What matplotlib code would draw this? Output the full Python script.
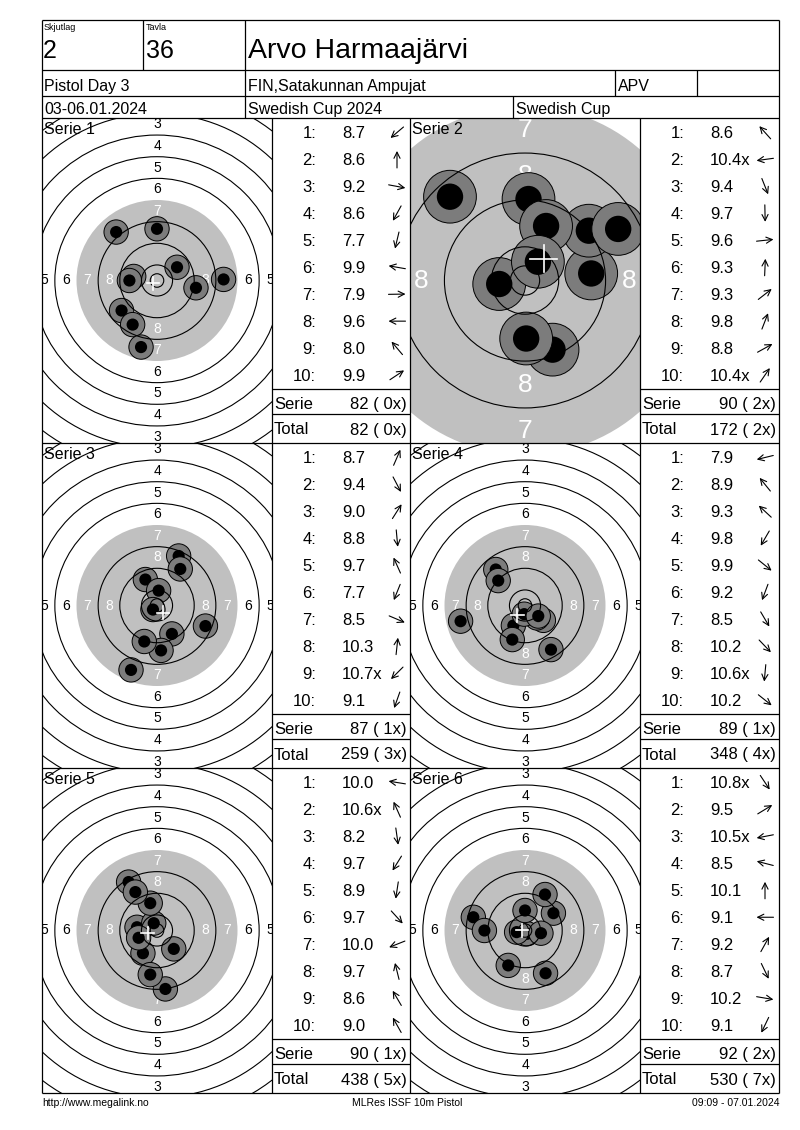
import matplotlib
matplotlib.use('Agg')
import matplotlib.pyplot as plt
from matplotlib.patches import Circle
from matplotlib import font_manager
import numpy as np

# ---------------- data ----------------
shooter = "Arvo Harmaajärvi"
relay = "2"
lane = "36"
event = "Pistol Day 3"
club = "FIN,Satakunnan Ampujat"
cls = "APV"
dates = "03-06.01.2024"
competition = "Swedish Cup 2024"
cup = "Swedish Cup"
footer_left = "http://www.megalink.no"
footer_mid = "MLRes ISSF 10m Pistol"
footer_right = "09:09 - 07.01.2024"

series_titles = ["Serie 1", "Serie 2", "Serie 3", "Serie 4", "Serie 5", "Serie 6"]

scores_1 = ["8.7", "8.6", "9.2", "8.6", "7.7", "9.9", "7.9", "9.6", "8.0", "9.9"]
scores_2 = ["8.6", "10.4x", "9.4", "9.7", "9.6", "9.3", "9.3", "9.8", "8.8", "10.4x"]
scores_3 = ["8.7", "9.4", "9.0", "8.8", "9.7", "7.7", "8.5", "10.3", "10.7x", "9.1"]
scores_4 = ["7.9", "8.9", "9.3", "9.8", "9.9", "9.2", "8.5", "10.2", "10.6x", "10.2"]
scores_5 = ["10.0", "10.6x", "8.2", "9.7", "8.9", "9.7", "10.0", "9.7", "8.6", "9.0"]
scores_6 = ["10.8x", "9.5", "10.5x", "8.5", "10.1", "9.1", "9.2", "8.7", "10.2", "9.1"]

serie_sums = ["82 ( 0x)", "90 ( 2x)", "87 ( 1x)", "89 ( 1x)", "90 ( 1x)", "92 ( 2x)"]
totals = ["82 ( 0x)", "172 ( 2x)", "259 ( 3x)", "348 ( 4x)", "438 ( 5x)", "530 ( 7x)"]

# shot positions in mm (x right, y up)
shots_x_1 = [-13.1, 0.0, 14.4, -9.0, -5.9, -8.6, 24.6, -10.2, -15.1, 7.4]
shots_y_1 = [-11.1, 19.1, -2.7, -16.3, -24.6, 1.5, 0.4, 0.0, 17.9, 4.9]
shots_x_2 = [-12.8, -4.4, 4.7, 0.2, 11.3, 0.6, 10.9, 3.6, 15.9, 2.2]
shots_y_2 = [14.3, -0.6, -11.8, -9.9, 1.2, 13.9, 8.5, 9.3, 8.8, 3.2]
shots_x_3 = [8.0, 5.5, 8.6, 1.5, -4.3, -9.6, 17.9, 0.6, -1.5, -4.7]
shots_y_3 = [18.3, -10.5, 13.5, -16.6, 9.6, -23.8, -7.6, 5.5, -1.5, -13.3]
shots_x_4 = [-23.8, -10.8, -9.9, -4.3, 6.8, -4.7, 9.6, 4.4, -0.3, 4.9]
shots_y_4 = [-5.8, 13.3, 9.2, -7.4, -5.5, -12.6, -16.3, -4.6, -3.2, -3.9]
shots_x_5 = [-7.4, -1.2, 3.1, -5.2, -2.5, 6.2, -6.8, -2.5, -10.5, -8.0]
shots_y_5 = [1.2, 2.7, -21.6, -8.4, -16.3, -6.8, -2.7, 10.1, 17.9, 14.2]
shots_x_6 = [0.8, 10.5, -3.1, -19.1, 0.0, -15.0, 7.4, 7.6, 5.9, -6.2]
shots_y_6 = [-1.2, 6.4, -0.6, 4.9, 7.4, 0.0, 13.3, -15.8, -1.0, -12.9]

# ---------------- layout ----------------
W, H = 800, 1130
fig = plt.figure(figsize=(8, 11.3), dpi=100)
FONT = 'Liberation Sans'
try:
    font_manager.findfont(font_manager.FontProperties(family='Liberation Sans Narrow'),
                          fallback_to_default=False)
    NARROW = 'Liberation Sans Narrow'
except Exception:
    NARROW = 'Liberation Sans'

LEFT, RIGHT, TOP, BOTTOM = 42, 779, 20, 1093
COLX = [42, 410]          # target column left edges
TABX = [272, 640]         # table column left edges
ROWY = [118, 443, 768]    # body row tops
ROWH = 325
TW = 230

GREY = '#c0c0c0'
SHOT_GREY = '#7c7c7c'

def ring_r(n):
    return 5.75 + 8.0 * (10 - n)


def draw_target(px, py, scale, xs, ys, title, lab_fs):
    ax = fig.add_axes([px / W, 1 - (py + ROWH) / H, TW / W, ROWH / H])
    hw = TW / 2 / scale
    hh = ROWH / 2 / scale
    ax.set_xlim(-hw, hw)
    ax.set_ylim(-hh, hh)
    ax.set_axis_off()
    ax.add_patch(Circle((0, 0), ring_r(7), fc=GREY, ec='none', zorder=1))
    for n in [1, 2, 3, 4, 5, 6, 8, 9, 10]:
        ax.add_patch(Circle((0, 0), ring_r(n), fill=False, ec='black', lw=0.8, zorder=4))
    ax.add_patch(Circle((0, 0), 2.5, fill=False, ec='black', lw=0.8, zorder=4))
    for n in range(1, 9):
        m = ring_r(n) - 4.0
        col = 'white' if n >= 7 else 'black'
        for (lx, ly) in [(0, m), (0, -m), (-m, 0), (m, 0)]:
            if abs(lx) > hw + 1 or abs(ly) > hh + 1:
                continue
            ax.text(lx, ly, str(n), color=col, fontsize=lab_fs, family=FONT,
                    ha='center', va='center', zorder=2, clip_on=True)
    for i, (sx, sy) in enumerate(zip(xs, ys)):
        ax.add_patch(Circle((sx, sy), 4.5, fc=SHOT_GREY, ec='black', lw=0.7, zorder=3 + i * 0.01))
        ax.add_patch(Circle((sx, sy), 2.25, fc='black', ec='none', zorder=3 + i * 0.01 + 0.005))
    mx, my = np.mean(xs), np.mean(ys)
    c = 2.3
    ax.plot([mx - c, mx + c], [my, my], color='white', lw=1.2, zorder=5)
    ax.plot([mx, mx], [my - c, my + c], color='white', lw=1.2, zorder=5)
    ax.text(2 / scale - hw, hh - 16 / scale, title, fontsize=11.5, family=FONT,
            ha='left', va='baseline', zorder=6)


all_x = [shots_x_1, shots_x_2, shots_x_3, shots_x_4, shots_x_5, shots_x_6]
all_y = [shots_y_1, shots_y_2, shots_y_3, shots_y_4, shots_y_5, shots_y_6]
all_scores = [scores_1, scores_2, scores_3, scores_4, scores_5, scores_6]
scales = [2.706, 5.86, 2.706, 2.706, 2.706, 2.706]
label_sizes = [10, 19, 10, 10, 10, 10]

for k in range(6):
    r, c = divmod(k, 2)
    draw_target(COLX[c], ROWY[r], scales[k], all_x[k], all_y[k], series_titles[k], label_sizes[k])

# overlay axes in pixel coordinates
ax = fig.add_axes([0, 0, 1, 1], zorder=10)
ax.set_xlim(0, W)
ax.set_ylim(H, 0)
ax.set_axis_off()
ax.patch.set_alpha(0)

LW = 0.9
def hline(y, x0, x1):
    ax.plot([x0, x1], [y, y], color='black', lw=LW, solid_capstyle='butt')

def vline(x, y0, y1):
    ax.plot([x, x], [y0, y1], color='black', lw=LW, solid_capstyle='butt')

# frame
hline(TOP, LEFT, RIGHT)
hline(BOTTOM, LEFT, RIGHT)
vline(LEFT, TOP, BOTTOM)
vline(RIGHT, TOP, BOTTOM)
for y in [70, 96, 118, 443, 768]:
    hline(y, LEFT, RIGHT)
vline(143, TOP, 70)
vline(245, TOP, 118)
vline(615, 70, 96)
vline(697, 70, 96)
vline(513, 96, 118)
for x in [272, 410, 640]:
    vline(x, 118, BOTTOM)

# header text
ax.text(44, 29.5, "Skjutlag", fontsize=6.5, family=FONT, va='baseline')
ax.text(146, 29.5, "Tavla", fontsize=6.5, family=FONT, va='baseline')
ax.text(43, 58, relay, fontsize=18, family=FONT, va='baseline')
ax.text(146, 58, lane, fontsize=18, family=FONT, va='baseline')
ax.text(248, 58, shooter, fontsize=20.5, family=FONT, va='baseline')
ax.text(44, 91, event, fontsize=11.5, family=FONT, va='baseline')
ax.text(248, 91, club, fontsize=11.5, family=FONT, va='baseline')
ax.text(618, 91, cls, fontsize=11.5, family=FONT, va='baseline')
ax.text(44, 114, dates, fontsize=11.5, family=FONT, va='baseline')
ax.text(248, 114, competition, fontsize=11.5, family=FONT, va='baseline')
ax.text(516, 114, cup, fontsize=11.5, family=FONT, va='baseline')

# tables
TFS = 12
for k in range(6):
    r, c = divmod(k, 2)
    tx = TABX[c]
    ty = ROWY[r]
    tw = (410 if c == 0 else 779) - tx
    xs, ys = all_x[k], all_y[k]
    for i, s in enumerate(all_scores[k]):
        base = ty + 20 + 26.95 * i
        ax.text(tx + 44, base, f"{i + 1}:", fontsize=TFS, family=FONT, ha='right', va='baseline')
        ax.text(tx + 70, base, s, fontsize=TFS, family=FONT, ha='left', va='baseline')
        d = np.array([xs[i], -ys[i]], dtype=float)
        d = d / np.hypot(*d)
        cx, cy = tx + 125, base - 5.5
        L = 17
        ax.annotate('', xy=(cx + d[0] * L / 2, cy + d[1] * L / 2),
                    xytext=(cx - d[0] * L / 2, cy - d[1] * L / 2),
                    arrowprops=dict(arrowstyle='->', lw=0.8, color='black',
                                    mutation_scale=11, shrinkA=0, shrinkB=0))
    hline(ty + 270.5, tx, tx + tw)
    hline(ty + 296, tx, tx + tw)
    ax.text(tx + 2, ty + 291, "Serie", fontsize=TFS, family=FONT, va='baseline')
    ax.text(tx + tw - 3, ty + 291, serie_sums[k], fontsize=TFS, family=FONT, ha='right', va='baseline')
    ax.text(tx + 2, ty + 316.5, "Total", fontsize=TFS, family=FONT, va='baseline')
    ax.text(tx + tw - 3, ty + 316.5, totals[k], fontsize=TFS, family=FONT, ha='right', va='baseline')

# footer
ax.text(42, 1106, footer_left, fontsize=7.5, family=NARROW, va='baseline')
ax.text(407, 1106, footer_mid, fontsize=7.5, family=NARROW, ha='center', va='baseline')
ax.text(779, 1106, footer_right, fontsize=7.5, family=NARROW, ha='right', va='baseline')

fig.savefig('out.png', dpi=100, facecolor='white')
